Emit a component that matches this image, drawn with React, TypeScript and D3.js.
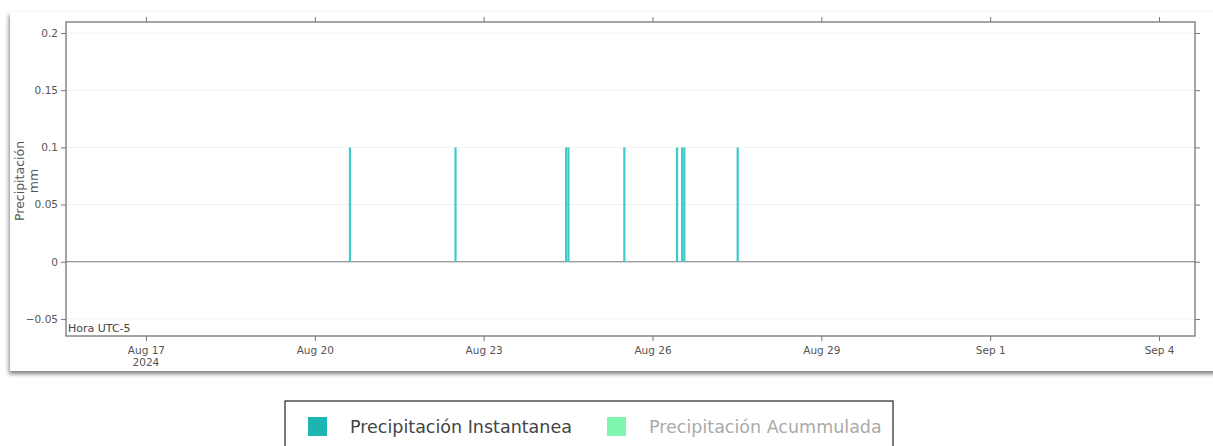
import React, { useEffect, useRef } from 'react';
import * as d3 from 'd3';

// observations (local time, UTC-5)
const rainTimes = [
  '2024-08-20T15:00', '2024-08-22T12:00', '2024-08-24T11:10', '2024-08-24T12:10',
  '2024-08-25T12:00', '2024-08-26T10:30', '2024-08-26T12:40', '2024-08-26T13:35',
  '2024-08-27T12:20',
];
const rainValues = [0.1, 0.1, 0.1, 0.1, 0.1, 0.1, 0.1, 0.1, 0.1];

const yTicks = [-0.05, 0, 0.05, 0.1, 0.15, 0.2];
const xTickDates = ['2024-08-17', '2024-08-20', '2024-08-23', '2024-08-26', '2024-08-29', '2024-09-01', '2024-09-04'];
const xTickLabels = ['Aug 17', 'Aug 20', 'Aug 23', 'Aug 26', 'Aug 29', 'Sep 1', 'Sep 4'];

const legendItems = [
  { name: 'Precipitación Instantanea', color: '#1db5b1', text: '#444' },
  { name: 'Precipitación Acummulada', color: '#80f7b0', text: '#aaa' },
];

const W = 1213;
const H = 446;
const plot = { left: 66, right: 1195, top: 22, bottom: 336 };
const font = '"DejaVu Sans", Verdana, sans-serif';

const App = () => {
  const svgRef = useRef<SVGSVGElement>(null);

  useEffect(() => {
    const svg = d3.select(svgRef.current);
    svg.selectAll('*').remove();

    const parse = (s: string) => new Date(s + (s.length === 10 ? 'T00:00' : ''));
    const x = d3.scaleTime()
      .domain([parse('2024-08-15T13:55'), parse('2024-09-04T15:20')])
      .range([plot.left, plot.right]);
    const y = d3.scaleLinear().domain([-0.0649, 0.2096]).range([plot.bottom, plot.top]);

    // panel with shadow
    const defs = svg.append('defs');
    const f = defs.append('filter').attr('id', 'shadow').attr('x', '-5%').attr('y', '-5%').attr('width', '110%').attr('height', '115%');
    f.append('feDropShadow').attr('dx', -1).attr('dy', 3).attr('stdDeviation', 2).attr('flood-color', '#000').attr('flood-opacity', 0.5);
    svg.append('rect').attr('x', 10).attr('y', 12).attr('width', W + 20).attr('height', 359)
      .attr('fill', '#fff').attr('filter', 'url(#shadow)');

    // grid
    svg.append('g').selectAll('line').data(yTicks).enter().append('line')
      .attr('x1', plot.left).attr('x2', plot.right)
      .attr('y1', d => y(d)).attr('y2', d => y(d))
      .attr('stroke', d => (d === 0 ? '#777' : '#f1f1f1'))
      .attr('stroke-width', d => (d === 0 ? 1.2 : 1));

    // bars
    svg.append('g').selectAll('rect').data(rainTimes).enter().append('rect')
      .attr('x', d => x(parse(d)) - 1.1)
      .attr('width', 2.2)
      .attr('y', (d, i) => y(rainValues[i]))
      .attr('height', (d, i) => y(0) - y(rainValues[i]))
      .attr('fill', '#40caca');

    // frame
    svg.append('rect').attr('x', plot.left).attr('y', plot.top)
      .attr('width', plot.right - plot.left).attr('height', plot.bottom - plot.top)
      .attr('fill', 'none').attr('stroke', '#6a6a6a').attr('stroke-width', 1.2);

    const xTickVals = xTickDates.map(parse);
    const tickFmt = (d: any, i: number) => xTickLabels[i];

    const bottom = svg.append('g').attr('transform', `translate(0,${plot.bottom})`)
      .call(d3.axisBottom(x).tickValues(xTickVals).tickFormat(tickFmt as any).tickSize(5).tickPadding(6));
    bottom.append('text').attr('x', x(xTickVals[0])).attr('y', 30).attr('text-anchor', 'middle')
      .attr('class', 'yr').text('2024');

    svg.append('g').attr('transform', `translate(0,${plot.top})`)
      .call(d3.axisTop(x).tickValues(xTickVals).tickFormat(() => '').tickSize(5));

    svg.append('g').attr('transform', `translate(${plot.left},0)`)
      .call(d3.axisLeft(y).tickValues(yTicks).tickFormat(d => (d as number) === 0 ? '0' : d3.format('')(d as number).replace('-', '\u2212')).tickSize(5).tickPadding(3));

    svg.append('g').attr('transform', `translate(${plot.right},0)`)
      .call(d3.axisRight(y).tickValues(yTicks).tickFormat(() => '').tickSize(5));

    svg.selectAll('.domain').remove();
    svg.selectAll('.tick line').attr('stroke', '#777');
    svg.selectAll('.tick text, .yr').attr('fill', '#555').attr('font-family', font).attr('font-size', 10.5);

    // labels
    svg.append('text').attr('transform', 'translate(24,181) rotate(-90)')
      .attr('text-anchor', 'middle').attr('font-family', font).attr('font-size', 12.5).attr('fill', '#555')
      .text('Precipitación');
    svg.append('text').attr('transform', 'translate(38,181) rotate(-90)')
      .attr('text-anchor', 'middle').attr('font-family', font).attr('font-size', 12.5).attr('fill', '#555')
      .text('mm');
    svg.append('text').attr('x', plot.left + 2).attr('y', plot.bottom - 4)
      .attr('font-family', font).attr('font-size', 11).attr('fill', '#444').text('Hora UTC-5');

    // legend
    svg.append('rect').attr('x', 285).attr('y', 401).attr('width', 608).attr('height', 70)
      .attr('fill', '#fff').attr('stroke', '#333').attr('stroke-width', 1.3);
    const li = svg.append('g').selectAll('g').data(legendItems).enter().append('g')
      .attr('transform', (d, i) => `translate(${i === 0 ? 308 : 607},417)`);
    li.append('rect').attr('width', 19).attr('height', 19).attr('fill', d => d.color);
    li.append('text').attr('x', 42).attr('y', 16).attr('font-family', font).attr('font-size', 17.5)
      .attr('fill', d => d.text).text(d => d.name);
  }, []);

  return (
    <svg ref={svgRef} width={W} height={H}
      style={{ position: 'absolute', left: 0, top: 0, display: 'block', background: '#fff' }} />
  );
};

export default App;
